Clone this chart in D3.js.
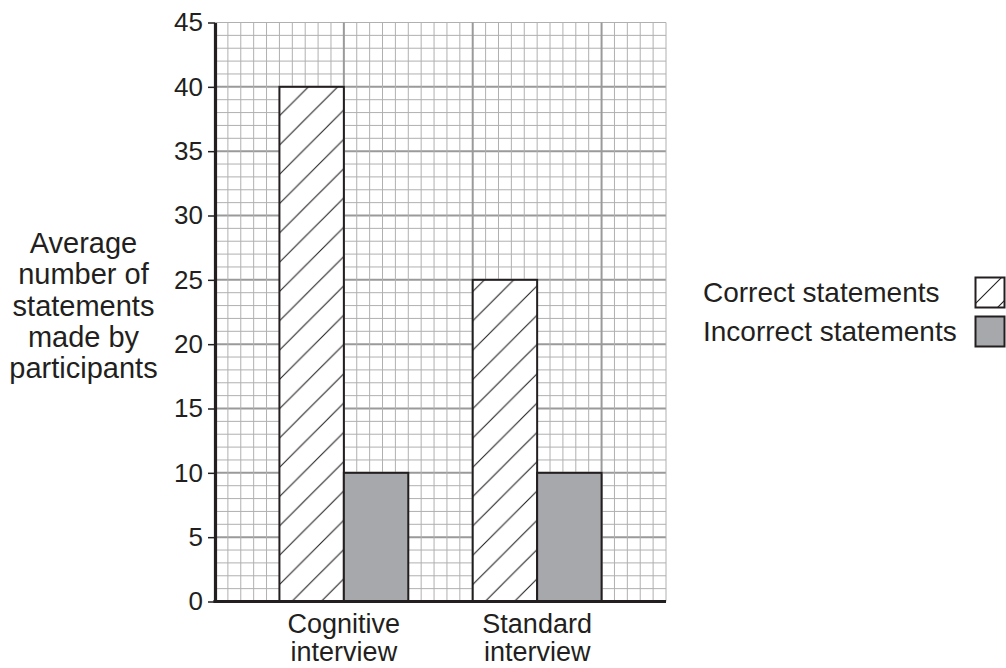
<!DOCTYPE html>
<html>
<head>
<meta charset="utf-8">
<script src="https://cdn.jsdelivr.net/npm/d3@7"></script>
<style>
  body { margin: 0; background: #fff; }
  svg { display: block; font-family: "Liberation Sans", Arial, sans-serif; }
</style>
</head>
<body>
<div id="chart"></div>
<script>
const categories = ['Cognitive interview', 'Standard interview'];
const seriesNames = ['Correct statements', 'Incorrect statements'];
const correctValues = [40, 25];
const incorrectValues = [10, 10];
const yTicks = [0, 5, 10, 15, 20, 25, 30, 35, 40, 45];
const yTitle = ['Average', 'number of', 'statements', 'made by', 'participants'];

const width = 1006;
const height = 668;
const plotLeft = 215, plotRight = 666, plotTop = 22.5, plotBottom = 601.5;
const cells = 35; // grid columns across the plot

const ink = '#231f20';

const svg = d3.select('#chart').append('svg')
    .attr('width', width)
    .attr('height', height);

const y = d3.scaleLinear().domain([0, 45]).range([plotBottom, plotTop]);
const xCell = d3.scaleLinear().domain([0, cells]).range([plotLeft, plotRight]);

const x0 = d3.scaleBand()
    .domain(categories)
    .range([plotLeft, plotRight])
    .paddingInner(1 / 3)
    .paddingOuter(1 / 3);

const x1 = d3.scaleBand()
    .domain(seriesNames)
    .range([0, x0.bandwidth()]);

// hatch patterns (diagonal, lower-left to upper-right)
const defs = svg.append('defs');
function hatch(id, size, offset) {
  const p = defs.append('pattern')
      .attr('id', id)
      .attr('patternUnits', 'userSpaceOnUse')
      .attr('width', size)
      .attr('height', size)
      .attr('x', offset)
      .attr('y', 0);
  p.append('rect').attr('width', size).attr('height', size).attr('fill', '#fff');
  p.append('path')
      .attr('d', `M0,${size} L${size},0 M${-size / 2},${size / 2} L${size / 2},${-size / 2} M${size / 2},${size * 1.5} L${size * 1.5},${size / 2}`)
      .attr('stroke', ink)
      .attr('stroke-width', 1.1);
}
hatch('hatch', 29.3, -1.4);
hatch('hatchLegend', 26, 5);

const fills = ['url(#hatch)', '#a7a8ab'];

// grid
const grid = svg.append('g');
const hVals = d3.range(0, 46);
const vVals = d3.range(0, cells + 1);

grid.selectAll('line.h')
    .data(hVals)
  .enter().append('line')
    .attr('x1', plotLeft).attr('x2', plotRight)
    .attr('y1', d => y(d)).attr('y2', d => y(d))
    .attr('stroke', d => (d % 5 === 0 && d !== 45) ? '#9a9a9a' : '#b0b0b0')
    .attr('stroke-width', d => (d % 5 === 0 && d !== 45) ? 2 : 1);

grid.selectAll('line.v')
    .data(vVals)
  .enter().append('line')
    .attr('y1', plotTop).attr('y2', plotBottom)
    .attr('x1', d => xCell(d)).attr('x2', d => xCell(d))
    .attr('stroke', d => (d % 10 === 0 && d !== 0) ? '#9a9a9a' : '#b0b0b0')
    .attr('stroke-width', d => (d % 10 === 0 && d !== 0) ? 2 : 1);

// bars
const rows = categories.map((c, i) => ({
  category: c,
  values: [correctValues[i], incorrectValues[i]],
}));

const groups = svg.selectAll('g.group')
    .data(rows)
  .enter().append('g')
    .attr('transform', d => `translate(${x0(d.category)},0)`);

groups.selectAll('rect')
    .data(d => d.values.map((v, j) => ({ name: seriesNames[j], value: v, j })))
  .enter().append('rect')
    .attr('x', d => x1(d.name))
    .attr('y', d => y(d.value))
    .attr('width', x1.bandwidth())
    .attr('height', d => y(0) - y(d.value))
    .attr('fill', d => fills[d.j])
    .attr('stroke', ink)
    .attr('stroke-width', 2);

// y axis
const yAxis = svg.append('g')
    .attr('transform', `translate(${plotLeft},0)`)
    .call(d3.axisLeft(y).tickValues(yTicks).tickSize(7).tickSizeOuter(0).tickPadding(5));
yAxis.select('.domain').attr('stroke', ink).attr('stroke-width', 3.2);
yAxis.selectAll('.tick line').attr('stroke', ink).attr('stroke-width', 1.5);
yAxis.selectAll('.tick text')
    .attr('fill', ink)
    .style('font-size', '26px')
    .style('font-family', '"Liberation Sans", Arial, sans-serif');

// x axis
const xAxis = svg.append('g')
    .attr('transform', `translate(0,${plotBottom})`)
    .call(d3.axisBottom(x0).tickSize(0).tickSizeOuter(0));
xAxis.select('.domain')
    .attr('d', `M${plotLeft - 1.6},0H${plotRight}`)
    .attr('stroke', ink).attr('stroke-width', 3.2);
xAxis.selectAll('.tick text').each(function (d) {
  const t = d3.select(this);
  const words = d.split(' ');
  t.text(null)
      .attr('fill', ink)
      .attr('y', 0)
      .attr('dy', null)
      .style('font-size', '27px')
      .style('font-family', '"Liberation Sans", Arial, sans-serif');
  words.forEach((w, i) => {
    t.append('tspan').attr('x', 0).attr('y', 31.5 + i * 28).text(w);
  });
});

// y title
const title = svg.append('text')
    .attr('text-anchor', 'middle')
    .attr('fill', ink)
    .style('font-size', '29px');
yTitle.forEach((line, i) => {
  title.append('tspan').attr('x', 83.5).attr('y', 253 + i * 31.3).text(line);
});

// legend
const legend = svg.append('g');
const legendFills = ['url(#hatchLegend)', '#a7a8ab'];
seriesNames.forEach((name, i) => {
  const cy = 292.5 + i * 39;
  legend.append('text')
      .attr('x', 703)
      .attr('y', cy + 9.5)
      .attr('fill', ink)
      .style('font-size', '28px')
      .text(name);
  legend.append('rect')
      .attr('x', 975.5)
      .attr('y', cy - 15)
      .attr('width', 29)
      .attr('height', 30)
      .attr('fill', legendFills[i])
      .attr('stroke', ink)
      .attr('stroke-width', 2);
});
</script>
</body>
</html>
